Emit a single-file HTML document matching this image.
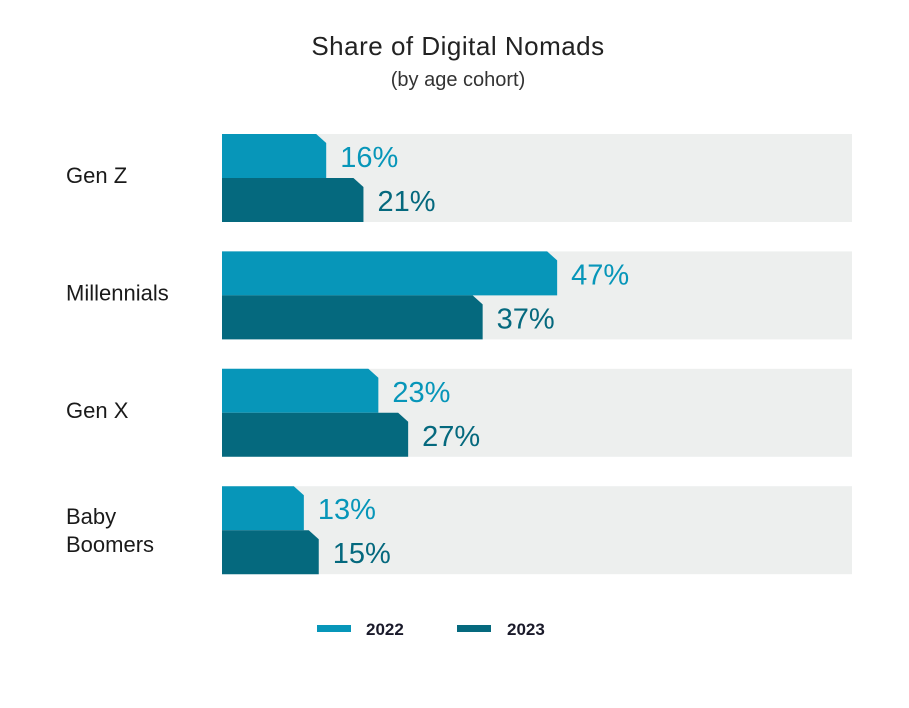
<!DOCTYPE html>
<html><head><meta charset="utf-8"><style>
body{margin:0;background:#fff;width:909px;height:703px;overflow:hidden;font-family:"Liberation Sans",sans-serif}
</style></head><body>
<svg width="909" height="703">
<text x="458" y="55" text-anchor="middle" font-size="26" fill="#222" letter-spacing="0.5">Share of Digital Nomads</text>
<text x="458" y="86" text-anchor="middle" font-size="20" fill="#333">(by age cohort)</text>
<g id="plot"></g>
<g>
<rect x="317" y="625" width="34" height="7" fill="#0796b9"/>
<text x="366" y="635" font-size="17" font-weight="bold" fill="#1a1a2a">2022</text>
<rect x="457" y="625" width="34" height="7" fill="#05697e"/>
<text x="507" y="635" font-size="17" font-weight="bold" fill="#1a1a2a">2023</text>
</g>
</svg>
<script>
const categories=["Gen Z","Millennials","Gen X","Baby Boomers"];
const values2022=[16,47,23,13];
const values2023=[21,37,27,15];
const x=v=>207+7.45*v;
const rowTop=i=>134+i*117.4;
const g=document.getElementById('plot');
const NS="http://www.w3.org/2000/svg";
function mk(t,a){const e=document.createElementNS(NS,t);for(const k in a)e.setAttribute(k,a[k]);g.appendChild(e);return e;}
categories.forEach((c,i)=>{
 const y=rowTop(i);
 const bg=mk('rect',{x:222,y:y,width:630,height:88,fill:'#edefee'});
 
 
 const lines=c==="Baby Boomers"?["Baby","Boomers"]:[c];
 lines.forEach((l,j)=>{
  const t=mk('text',{x:66,y:(lines.length>1?y+38+j*28:y+49),'font-size':22,fill:'#1a1a1a'});
  t.textContent=l;
  
  
 });
 [[values2022[i],'#0796b9',y],[values2023[i],'#05697e',y+44]].forEach(([v,col,yy],k)=>{
  const xe=x(v);
  const p=mk('polygon',{points:`222,${yy} ${xe-10},${yy} ${xe},${yy+9} ${xe},${yy+44} 222,${yy+44}`,fill:col});
  
  
  const t=mk('text',{x:xe+14,y:yy+33,'font-size':29,fill:col});
  t.textContent=v+'%';
  
  
 });
});
</script>
</body></html>
